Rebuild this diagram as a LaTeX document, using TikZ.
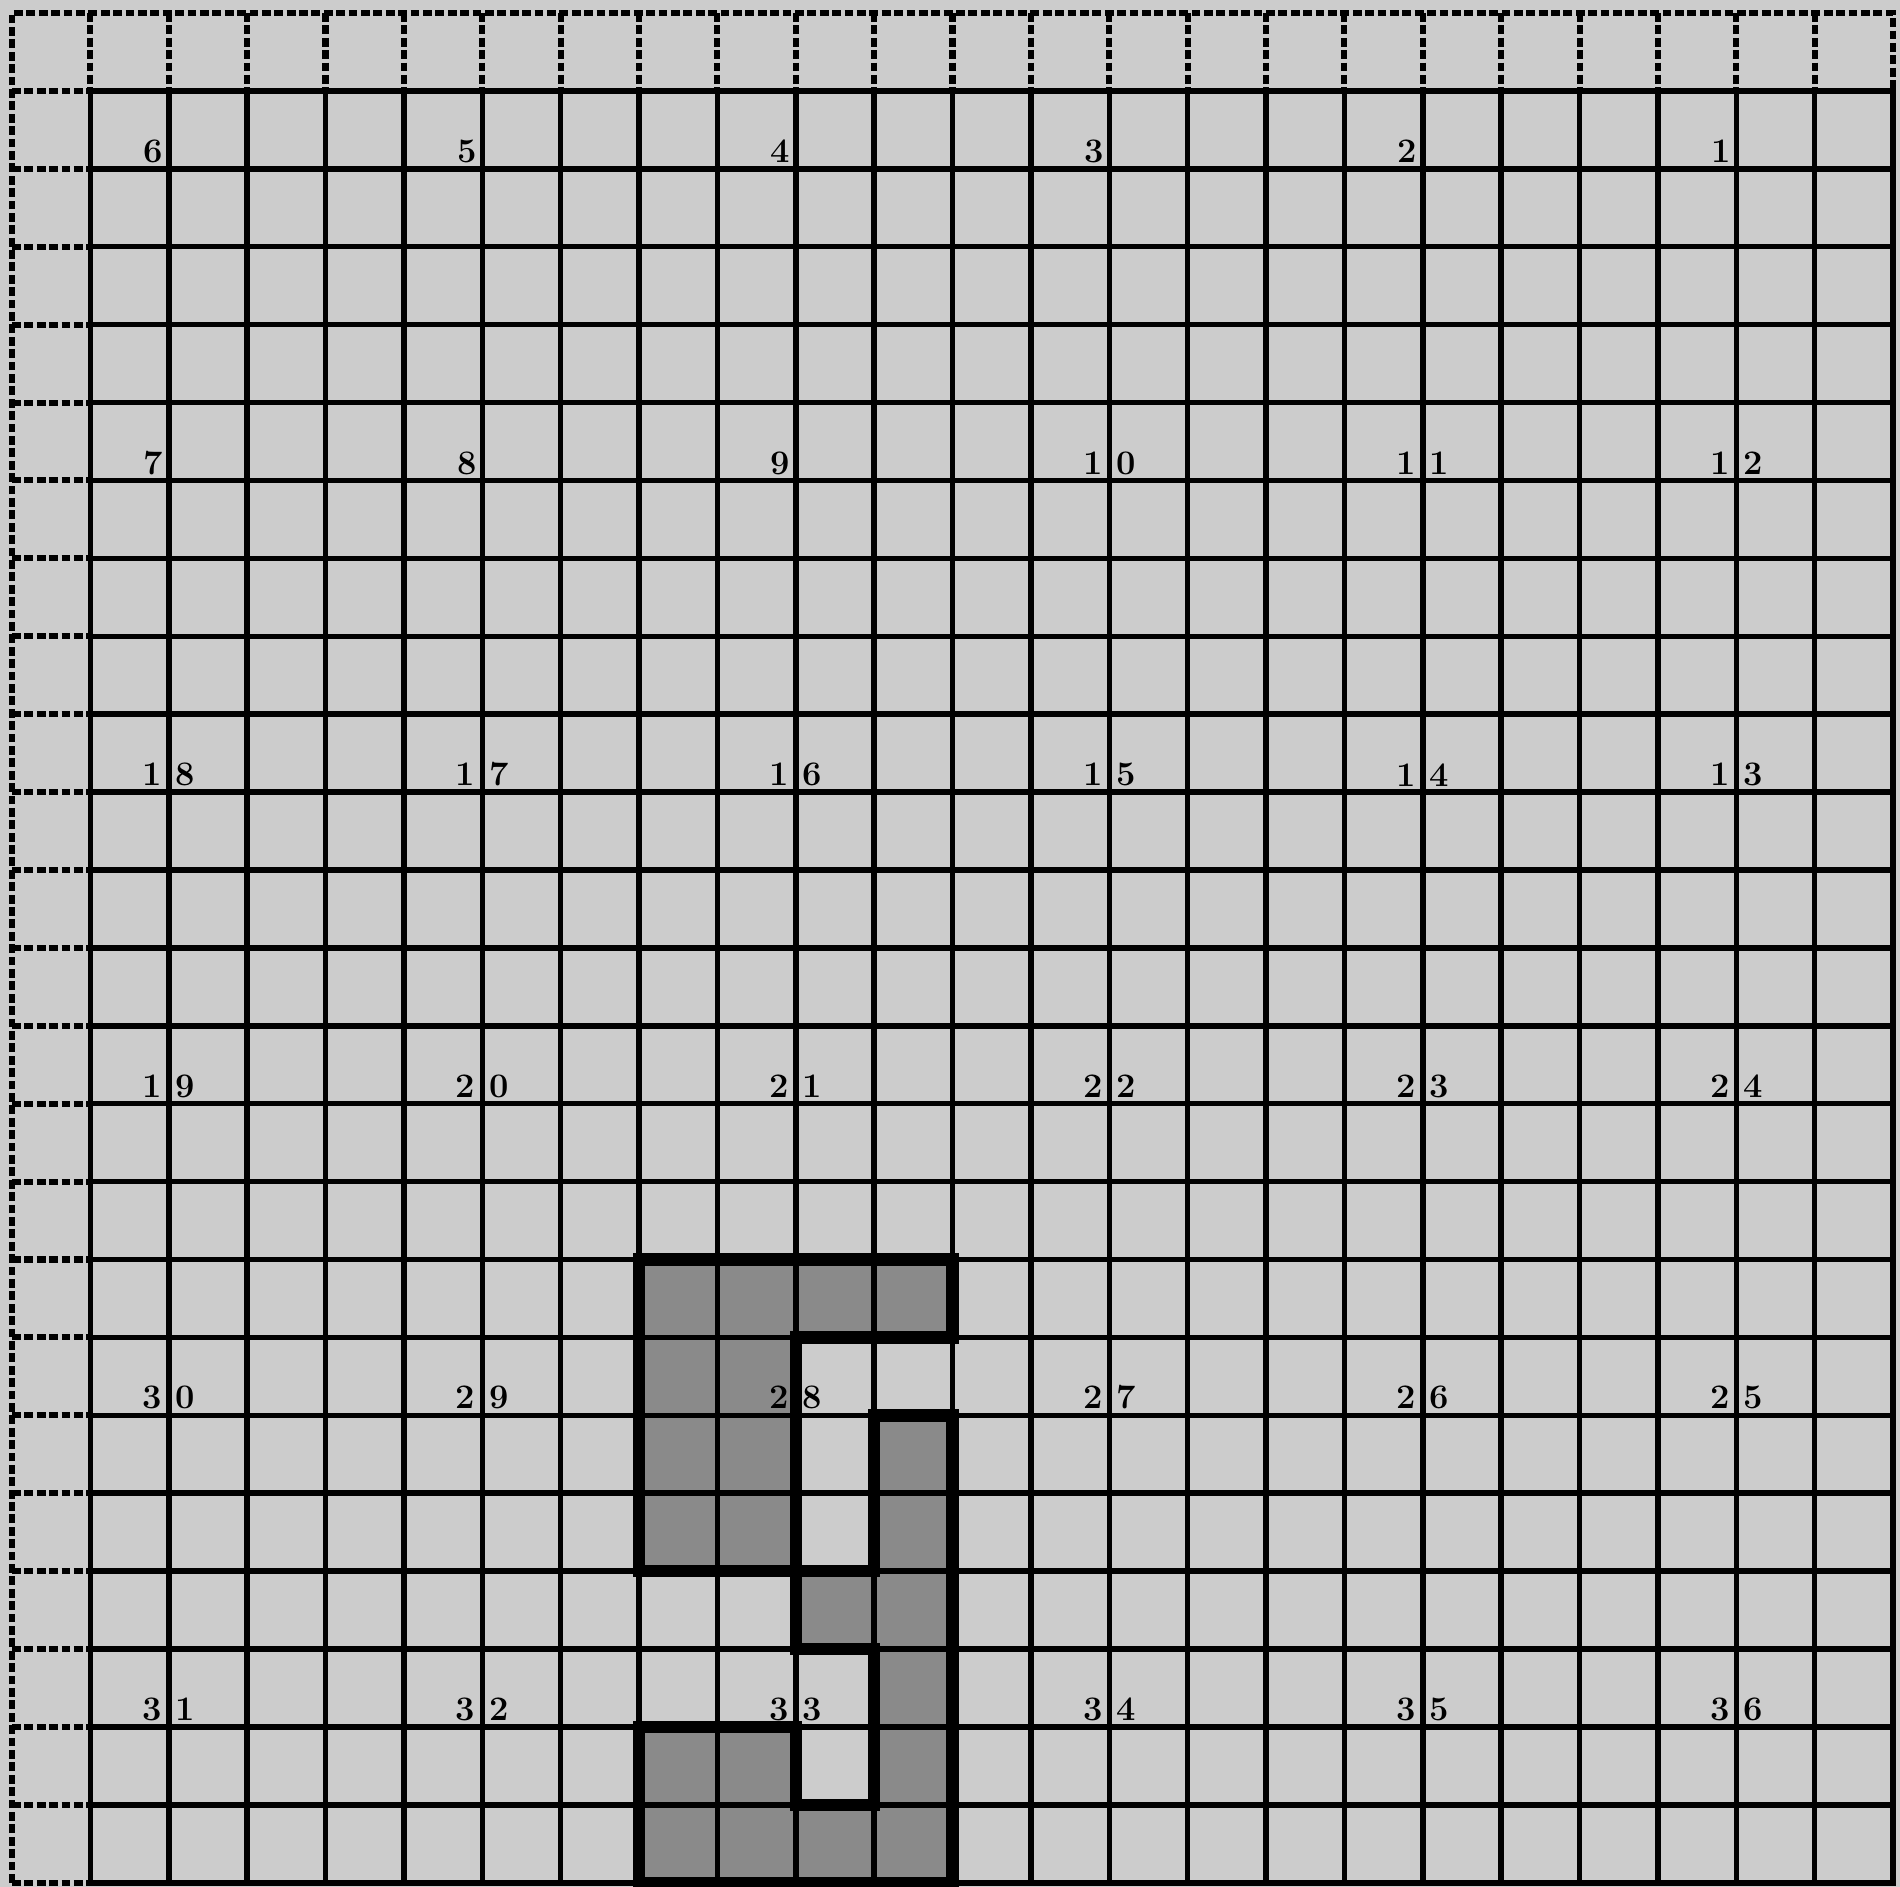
\documentclass[tikz,border=0pt]{standalone}
\usetikzlibrary{positioning}
\usepackage{xcolor}

\definecolor{paper}{gray}{0.80}
\definecolor{shade}{gray}{0.54}

\begin{document}
\begin{tikzpicture}[
  x=1cm, y=0.994cm,
  grid/.style={line width=2pt, line cap=rect},
  outer/.style={line width=2.2pt, dash pattern=on 3.2pt off 1.3pt},
  dark/.style={fill=shade},
  bound/.style={line width=4.5pt, line join=miter},
  secno/.style={inner sep=0pt, anchor=south,
                font=\fontsize{12.5}{14}\selectfont\bfseries},
]

% ---- Paper ------------------------------------------------------------------
\fill[paper] (-0.153,-0.051) rectangle (24.089,24.167);
\useasboundingbox (-0.153,-0.051) rectangle (24.089,24.167);

% ---- Shaded quarter-quarters (sections 28 and 33) ---------------------------
\fill[dark] (8,8) -- (12,8) -- (12,7) -- (10,7) -- (10,4) -- (8,4) -- cycle;
\fill[dark] (11,6) -- (12,6) -- (12,0) -- (8,0) -- (8,2) -- (10,2) -- (10,1)
  -- (11,1) -- (11,3) -- (10,3) -- (10,4) -- (11,4) -- cycle;

% ---- Quarter-quarter grid ---------------------------------------------------
\foreach \i in {1,...,24}{
  \draw[grid] (\i,0) -- (\i,23);
  \draw[grid] (1,\i-1) -- (24,\i-1);
}

% Dashed outer row and column
\draw[outer] (0,0) -- (0,24) -- (24,24) -- (24,23);
\foreach \i in {1,...,23} \draw[outer] (\i,24) -- (\i,23);
\foreach \j in {0,...,23} \draw[outer] (0,\j) -- (1,\j);

% ---- Outline of the shaded parcels ------------------------------------------
\draw[bound] (8,8) -- (12,8) -- (12,7) -- (10,7) -- (10,4) -- (8,4) -- cycle;
\draw[bound] (11,6) -- (12,6) -- (12,0) -- (8,0) -- (8,2) -- (10,2) -- (10,1)
  -- (11,1) -- (11,3) -- (10,3) -- (10,4) -- (11,4) -- cycle;

% ---- Section numbers (back and forth, 1 at top right) -----------------------
\foreach \r in {0,...,5}{
  \foreach \c in {0,...,5}{
    \pgfmathtruncatemacro\n{mod(\r,2)==0 ? 6*\r+6-\c : 6*\r+1+\c}
    \pgfmathtruncatemacro\tn{\n/10}
    \pgfmathtruncatemacro\un{mod(\n,10)}
    \ifnum\tn>0
      \def\txt{\makebox[0pt][r]{\tn\kern2.5pt}\makebox[0pt][l]{\kern2.5pt\un}}
    \else
      \def\txt{\makebox[0pt][r]{\un\kern2pt}}
    \fi
    \node[secno] (sec\n) at (4*\c+2, 22.07-4*\r) {\txt};
  }
}

\end{tikzpicture}
\end{document}
